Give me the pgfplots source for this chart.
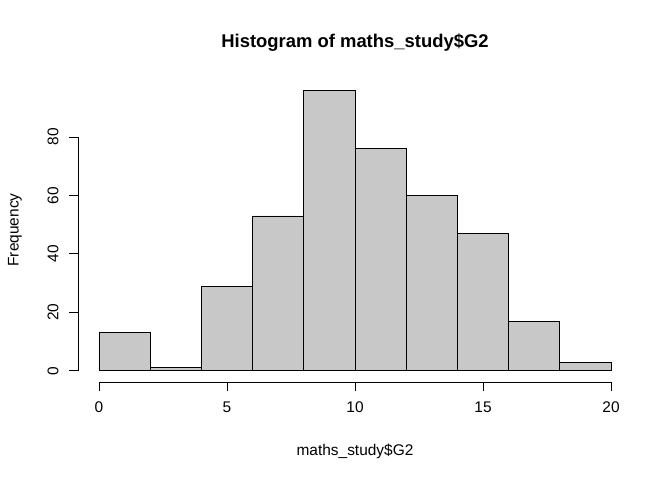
\documentclass[border=0pt]{standalone}
\usepackage{pgfplots}
\pgfplotsset{compat=1.18}
\usepackage{fontspec}
\setmainfont{Liberation Sans}
\definecolor{barg}{RGB}{200,200,200}
\begin{document}
\begin{tikzpicture}[x=1bp,y=1bp]
\useasboundingbox (0,0) rectangle (672,480);
\begin{axis}[at={(78.5bp,98bp)},anchor=south west,
  scale only axis, width=553bp, height=303bp,
  xmin=-0.8, xmax=20.8, ymin=-3.84, ymax=99.84,
  axis line style={draw=none},
  xtick={0,5,10,15,20}, ytick={0,20,40,60,80},
  xtick pos=bottom, ytick pos=left, tick align=outside,
  major tick length=9.5bp, tick style={black,line width=0.75bp},
  /pgf/number format/assume math mode=true,
  ticklabel style={font=\fontsize{15.5}{18}\selectfont},
  xticklabel style={yshift=-7bp},
  yticklabel style={rotate=90,anchor=south,yshift=7bp},
  clip=false]
\addplot[ybar interval, fill=barg, draw=black, line width=0.75bp] coordinates {
(0,13) (2,1) (4,29) (6,53) (8,96) (10,76) (12,60) (14,47) (16,17) (18,3) (20,3)};
\draw[line width=0.75bp] (axis cs:0,-3.84) -- (axis cs:20,-3.84);
\draw[line width=0.75bp] (axis cs:-0.8,0) -- (axis cs:-0.8,80);
\end{axis}
\node[font=\bfseries\fontsize{18.5}{21}\selectfont] at (355,437) {Histogram of maths\_study\$G2};
\node[font=\fontsize{15.5}{18}\selectfont] at (355,29) {maths\_study\$G2};
\node[font=\fontsize{15.5}{18}\selectfont,rotate=90] at (15,250) {Frequency};
\end{tikzpicture}
\end{document}
